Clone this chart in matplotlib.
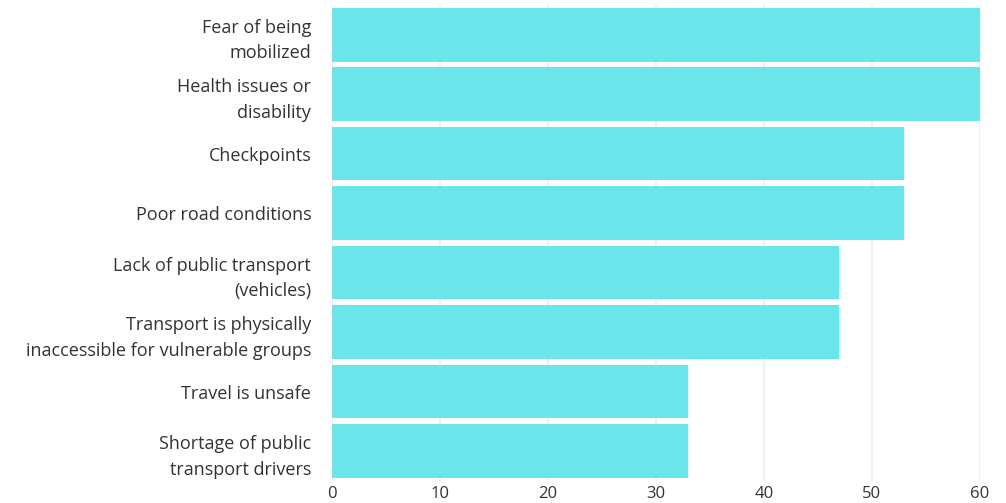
import matplotlib
matplotlib.use("Agg")
import matplotlib.pyplot as plt

categories = [
    "Fear of being\nmobilized",
    "Health issues or\ndisability",
    "Checkpoints",
    "Poor road conditions",
    "Lack of public transport\n(vehicles)",
    "Transport is physically\ninaccessible for vulnerable groups",
    "Travel is unsafe",
    "Shortage of public\ntransport drivers",
]
values = [60, 60, 53, 53, 47, 47, 33, 33]
xticks = [0, 10, 20, 30, 40, 50, 60]

plt.rcParams['font.family'] = ['Open Sans', 'DejaVu Sans']

fig = plt.figure(figsize=(10.06, 5.03), dpi=100)
ax = fig.add_axes([0.330, 0.044, 0.644, 0.946])

ypos = list(range(len(categories)))
ax.barh(ypos, values, height=0.9, color='#6ae5e9', zorder=2)
ax.set_ylim(len(categories) - 0.5, -0.5)
ax.set_xlim(0, 60)
ax.set_xticks(xticks)
ax.set_yticks(ypos)
ax.set_yticklabels(categories, fontsize=13, color='#333333', linespacing=1.55)
ax.tick_params(axis='x', labelsize=12, labelcolor='#333333', length=0, pad=4)
ax.tick_params(axis='y', length=0, pad=15)
for lab in ax.get_yticklabels():
    lab.set_horizontalalignment('right')

ax.grid(axis='x', color='#ececec', linewidth=1.2, zorder=0)
ax.set_axisbelow(True)
for s in ax.spines.values():
    s.set_visible(False)

fig.savefig("out.png", dpi=100)
